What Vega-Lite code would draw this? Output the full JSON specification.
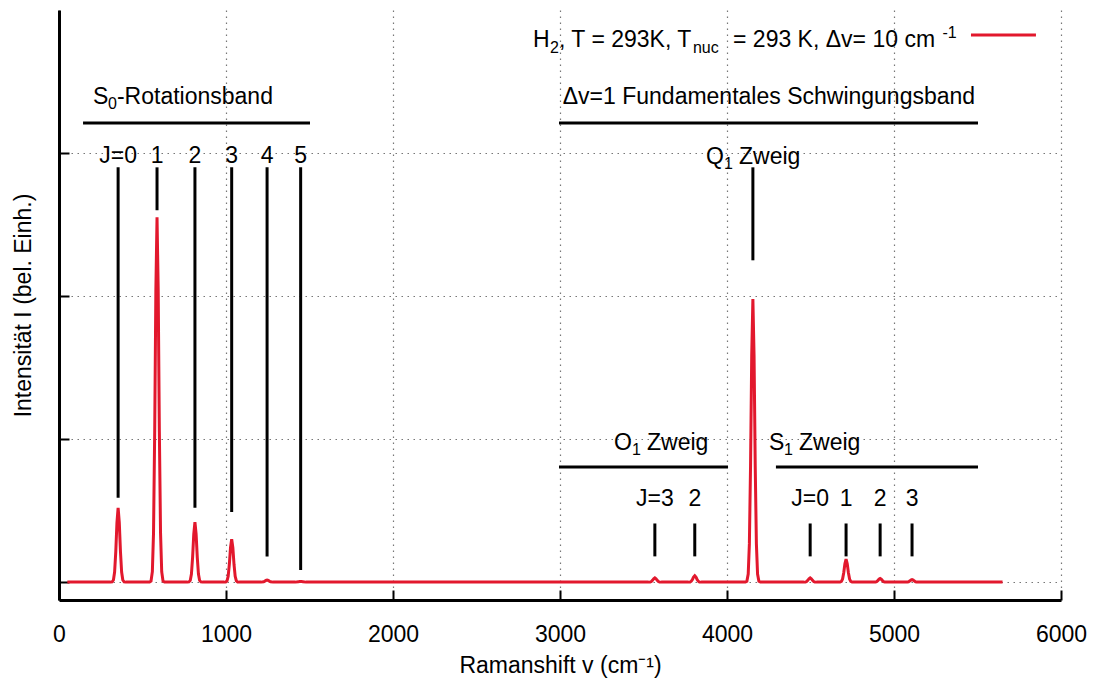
{
  "$schema": "https://vega.github.io/schema/vega-lite/v6.json",
  "width": 1002,
  "height": 590,
  "autosize": "none",
  "padding": {"left": 59, "top": 10, "right": 35, "bottom": 83},
  "background": "white",
  "config": {
    "view": {"stroke": null},
    "font": "Liberation Sans",
    "axis": {
      "labelFont": "Liberation Sans", "titleFont": "Liberation Sans",
      "labelFontSize": 23, "titleFontSize": 23, "titleFontWeight": "normal",
      "labelColor": "black", "titleColor": "black",
      "domainColor": "black", "domainWidth": 3,
      "tickColor": "black", "tickWidth": 2, "tickSize": -10,
      "gridColor": "#777777", "gridDash": [1.5, 4.5], "gridWidth": 1.2, "gridOpacity": 1
    },
    "text": {"font": "Liberation Sans", "color": "black", "baseline": "alphabetic"}
  },
  "datasets": {
    "spectrum": [
      {"x": 50, "y": 0},
      {"x": 309, "y": 0}, {"x": 318, "y": 0.0015}, {"x": 326, "y": 0.0149}, {"x": 333, "y": 0.0702}, {"x": 340, "y": 0.2137}, {"x": 347, "y": 0.4165}, {"x": 354, "y": 0.52}, {"x": 361, "y": 0.4165}, {"x": 368, "y": 0.2137}, {"x": 375, "y": 0.0702}, {"x": 382, "y": 0.0149}, {"x": 390, "y": 0.0015}, {"x": 399, "y": 0},
      {"x": 542, "y": 0}, {"x": 551, "y": 0.0071}, {"x": 559, "y": 0.0729}, {"x": 566, "y": 0.3443}, {"x": 573, "y": 1.048}, {"x": 580, "y": 2.043}, {"x": 587, "y": 2.55}, {"x": 594, "y": 2.043}, {"x": 601, "y": 1.048}, {"x": 608, "y": 0.3443}, {"x": 615, "y": 0.0729}, {"x": 623, "y": 0.0071}, {"x": 632, "y": 0},
      {"x": 769, "y": 0}, {"x": 778, "y": 0.0012}, {"x": 786, "y": 0.012}, {"x": 793, "y": 0.0567}, {"x": 800, "y": 0.1726}, {"x": 807, "y": 0.3364}, {"x": 814, "y": 0.42}, {"x": 821, "y": 0.3364}, {"x": 828, "y": 0.1726}, {"x": 835, "y": 0.0567}, {"x": 842, "y": 0.012}, {"x": 850, "y": 0.0012}, {"x": 859, "y": 0},
      {"x": 989, "y": 0}, {"x": 998, "y": 0.0008}, {"x": 1006, "y": 0.0086}, {"x": 1013, "y": 0.0405}, {"x": 1020, "y": 0.1233}, {"x": 1027, "y": 0.2403}, {"x": 1034, "y": 0.30}, {"x": 1041, "y": 0.2403}, {"x": 1048, "y": 0.1233}, {"x": 1055, "y": 0.0405}, {"x": 1062, "y": 0.0086}, {"x": 1070, "y": 0.0008}, {"x": 1079, "y": 0},
      {"x": 1210, "y": 0}, {"x": 1225, "y": 0.002}, {"x": 1232, "y": 0.0062}, {"x": 1239, "y": 0.012}, {"x": 1246, "y": 0.015}, {"x": 1253, "y": 0.012}, {"x": 1260, "y": 0.0062}, {"x": 1267, "y": 0.002}, {"x": 1282, "y": 0},
      {"x": 1415, "y": 0}, {"x": 1433, "y": 0.002}, {"x": 1440, "y": 0.004}, {"x": 1447, "y": 0.005}, {"x": 1454, "y": 0.004}, {"x": 1461, "y": 0.002}, {"x": 1479, "y": 0},
      {"x": 3530, "y": 0}, {"x": 3540, "y": 0.0009}, {"x": 3547, "y": 0.004}, {"x": 3554, "y": 0.0123}, {"x": 3561, "y": 0.024}, {"x": 3568, "y": 0.03}, {"x": 3575, "y": 0.024}, {"x": 3582, "y": 0.0123}, {"x": 3589, "y": 0.004}, {"x": 3596, "y": 0.0009}, {"x": 3606, "y": 0},
      {"x": 3769, "y": 0}, {"x": 3779, "y": 0.0013}, {"x": 3786, "y": 0.0061}, {"x": 3793, "y": 0.0185}, {"x": 3800, "y": 0.036}, {"x": 3807, "y": 0.045}, {"x": 3814, "y": 0.036}, {"x": 3821, "y": 0.0185}, {"x": 3828, "y": 0.0061}, {"x": 3835, "y": 0.0013}, {"x": 3845, "y": 0},
      {"x": 4110, "y": 0}, {"x": 4119, "y": 0.0055}, {"x": 4127, "y": 0.0566}, {"x": 4134, "y": 0.2673}, {"x": 4141, "y": 0.8138}, {"x": 4148, "y": 1.586}, {"x": 4155, "y": 1.98}, {"x": 4162, "y": 1.586}, {"x": 4169, "y": 0.8138}, {"x": 4176, "y": 0.2673}, {"x": 4183, "y": 0.0566}, {"x": 4191, "y": 0.0055}, {"x": 4200, "y": 0},
      {"x": 4460, "y": 0}, {"x": 4470, "y": 0.0009}, {"x": 4477, "y": 0.004}, {"x": 4484, "y": 0.0123}, {"x": 4491, "y": 0.024}, {"x": 4498, "y": 0.03}, {"x": 4505, "y": 0.024}, {"x": 4512, "y": 0.0123}, {"x": 4519, "y": 0.004}, {"x": 4526, "y": 0.0009}, {"x": 4536, "y": 0},
      {"x": 4668, "y": 0}, {"x": 4677, "y": 0.0004}, {"x": 4685, "y": 0.0046}, {"x": 4692, "y": 0.0216}, {"x": 4699, "y": 0.0658}, {"x": 4706, "y": 0.1282}, {"x": 4713, "y": 0.16}, {"x": 4720, "y": 0.1282}, {"x": 4727, "y": 0.0658}, {"x": 4734, "y": 0.0216}, {"x": 4741, "y": 0.0046}, {"x": 4749, "y": 0.0004}, {"x": 4758, "y": 0},
      {"x": 4879, "y": 0}, {"x": 4889, "y": 0.0007}, {"x": 4896, "y": 0.0034}, {"x": 4903, "y": 0.0103}, {"x": 4910, "y": 0.02}, {"x": 4917, "y": 0.025}, {"x": 4924, "y": 0.02}, {"x": 4931, "y": 0.0103}, {"x": 4938, "y": 0.0034}, {"x": 4945, "y": 0.0007}, {"x": 4955, "y": 0},
      {"x": 5070, "y": 0}, {"x": 5080, "y": 0.0005}, {"x": 5087, "y": 0.0024}, {"x": 5094, "y": 0.0074}, {"x": 5101, "y": 0.0144}, {"x": 5108, "y": 0.018}, {"x": 5115, "y": 0.0144}, {"x": 5122, "y": 0.0074}, {"x": 5129, "y": 0.0024}, {"x": 5136, "y": 0.0005}, {"x": 5146, "y": 0},
      {"x": 5650, "y": 0}
    ],
    "ticks": [
      {"x": 354, "y": 0.59, "y2": 2.9},
      {"x": 587, "y": 2.6, "y2": 2.9},
      {"x": 814, "y": 0.52, "y2": 2.9},
      {"x": 1034, "y": 0.49, "y2": 2.9},
      {"x": 1246, "y": 0.18, "y2": 2.9},
      {"x": 1447, "y": 0.085, "y2": 2.9},
      {"x": 4155, "y": 2.25, "y2": 2.9},
      {"x": 3568, "y": 0.18, "y2": 0.41},
      {"x": 3807, "y": 0.18, "y2": 0.41},
      {"x": 4498, "y": 0.18, "y2": 0.41},
      {"x": 4713, "y": 0.18, "y2": 0.41},
      {"x": 4917, "y": 0.18, "y2": 0.41},
      {"x": 5108, "y": 0.18, "y2": 0.41}
    ],
    "bands": [
      {"x": 144, "x2": 1503, "y": 3.21},
      {"x": 2994, "x2": 5503, "y": 3.21},
      {"x": 2994, "x2": 4006, "y": 0.804},
      {"x": 4293, "x2": 5503, "y": 0.804}
    ],
    "legendline": [
      {"x": 5461, "x2": 5850, "y": 3.825}
    ],
    "labels": [
      {"kind": "center", "x": 354, "y": 2.93, "text": "J=0"},
      {"kind": "center", "x": 587, "y": 2.93, "text": "1"},
      {"kind": "center", "x": 814, "y": 2.93, "text": "2"},
      {"kind": "center", "x": 1034, "y": 2.93, "text": "3"},
      {"kind": "center", "x": 1246, "y": 2.93, "text": "4"},
      {"kind": "center", "x": 1447, "y": 2.93, "text": "5"},
      {"kind": "center", "x": 4251, "y": 3.343, "text": "Δv=1 Fundamentales Schwingungsband"},
      {"kind": "center", "x": 3568, "y": 0.53, "text": "J=3"},
      {"kind": "center", "x": 3807, "y": 0.53, "text": "2"},
      {"kind": "center", "x": 4498, "y": 0.53, "text": "J=0"},
      {"kind": "center", "x": 4713, "y": 0.53, "text": "1"},
      {"kind": "center", "x": 4917, "y": 0.53, "text": "2"},
      {"kind": "center", "x": 5108, "y": 0.53, "text": "3"},
      {"kind": "main", "x": 2838, "y": 3.741, "text": "H"},
      {"kind": "main", "x": 2994, "y": 3.741, "text": ", T = 293K, T"},
      {"kind": "main", "x": 4036, "y": 3.741, "text": "= 293 K, Δv= 10 cm"},
      {"kind": "main", "x": 204, "y": 3.343, "text": "S"},
      {"kind": "main", "x": 347, "y": 3.343, "text": "-Rotationsband"},
      {"kind": "main", "x": 3874, "y": 2.923, "text": "Q"},
      {"kind": "main", "x": 4072, "y": 2.923, "text": "Zweig"},
      {"kind": "main", "x": 3323, "y": 0.923, "text": "O"},
      {"kind": "main", "x": 3521, "y": 0.923, "text": "Zweig"},
      {"kind": "main", "x": 4251, "y": 0.923, "text": "S"},
      {"kind": "main", "x": 4431, "y": 0.923, "text": "Zweig"},
      {"kind": "sub", "x": 2940, "y": 3.699, "text": "2"},
      {"kind": "sub", "x": 3796, "y": 3.699, "text": "nuc"},
      {"kind": "sub", "x": 293, "y": 3.308, "text": "0"},
      {"kind": "sub", "x": 3982, "y": 2.888, "text": "1"},
      {"kind": "sub", "x": 3431, "y": 0.888, "text": "1"},
      {"kind": "sub", "x": 4341, "y": 0.888, "text": "1"},
      {"kind": "sup", "x": 5290, "y": 3.804, "text": "-1"}
    ]
  },
  "encoding": {
    "x": {"field": "x", "type": "quantitative",
          "scale": {"domain": [0, 6000], "nice": false, "zero": false},
          "axis": {"values": [0, 1000, 2000, 3000, 4000, 5000, 6000], "format": "d",
                   "title": "Ramanshift v (cm⁻¹)", "labelPadding": 33, "titlePadding": 8,
                   "labelFlush": false, "labelOverlap": false, "grid": true}},
    "y": {"field": "y", "type": "quantitative",
          "scale": {"domain": [-0.125, 4], "nice": false, "zero": false},
          "axis": {"values": [0, 1, 2, 3], "labels": false,
                   "title": "Intensität I (bel. Einh.)", "titlePadding": 23, "grid": true}}
  },
  "layer": [
    {
      "data": {"name": "spectrum"},
      "mark": {"type": "line", "color": "#e2182d", "strokeWidth": 3}
    },
    {
      "data": {"name": "ticks"},
      "mark": {"type": "rule", "color": "black", "strokeWidth": 3},
      "encoding": {"y2": {"field": "y2"}}
    },
    {
      "data": {"name": "bands"},
      "mark": {"type": "rule", "color": "black", "strokeWidth": 3},
      "encoding": {"x2": {"field": "x2"}}
    },
    {
      "data": {"name": "legendline"},
      "mark": {"type": "rule", "color": "#e2182d", "strokeWidth": 3},
      "encoding": {"x2": {"field": "x2"}}
    },
    {
      "data": {"name": "labels"},
      "transform": [{"filter": "datum.kind === 'center'"}],
      "mark": {"type": "text", "fontSize": 23, "align": "center", "baseline": "alphabetic"},
      "encoding": {"text": {"field": "text"}}
    },
    {
      "data": {"name": "labels"},
      "transform": [{"filter": "datum.kind === 'main'"}],
      "mark": {"type": "text", "fontSize": 23, "align": "left", "baseline": "alphabetic"},
      "encoding": {"text": {"field": "text"}}
    },
    {
      "data": {"name": "labels"},
      "transform": [{"filter": "datum.kind === 'sub' || datum.kind === 'sup'"}],
      "mark": {"type": "text", "fontSize": 16, "align": "left", "baseline": "alphabetic"},
      "encoding": {"text": {"field": "text"}}
    }
  ]
}
